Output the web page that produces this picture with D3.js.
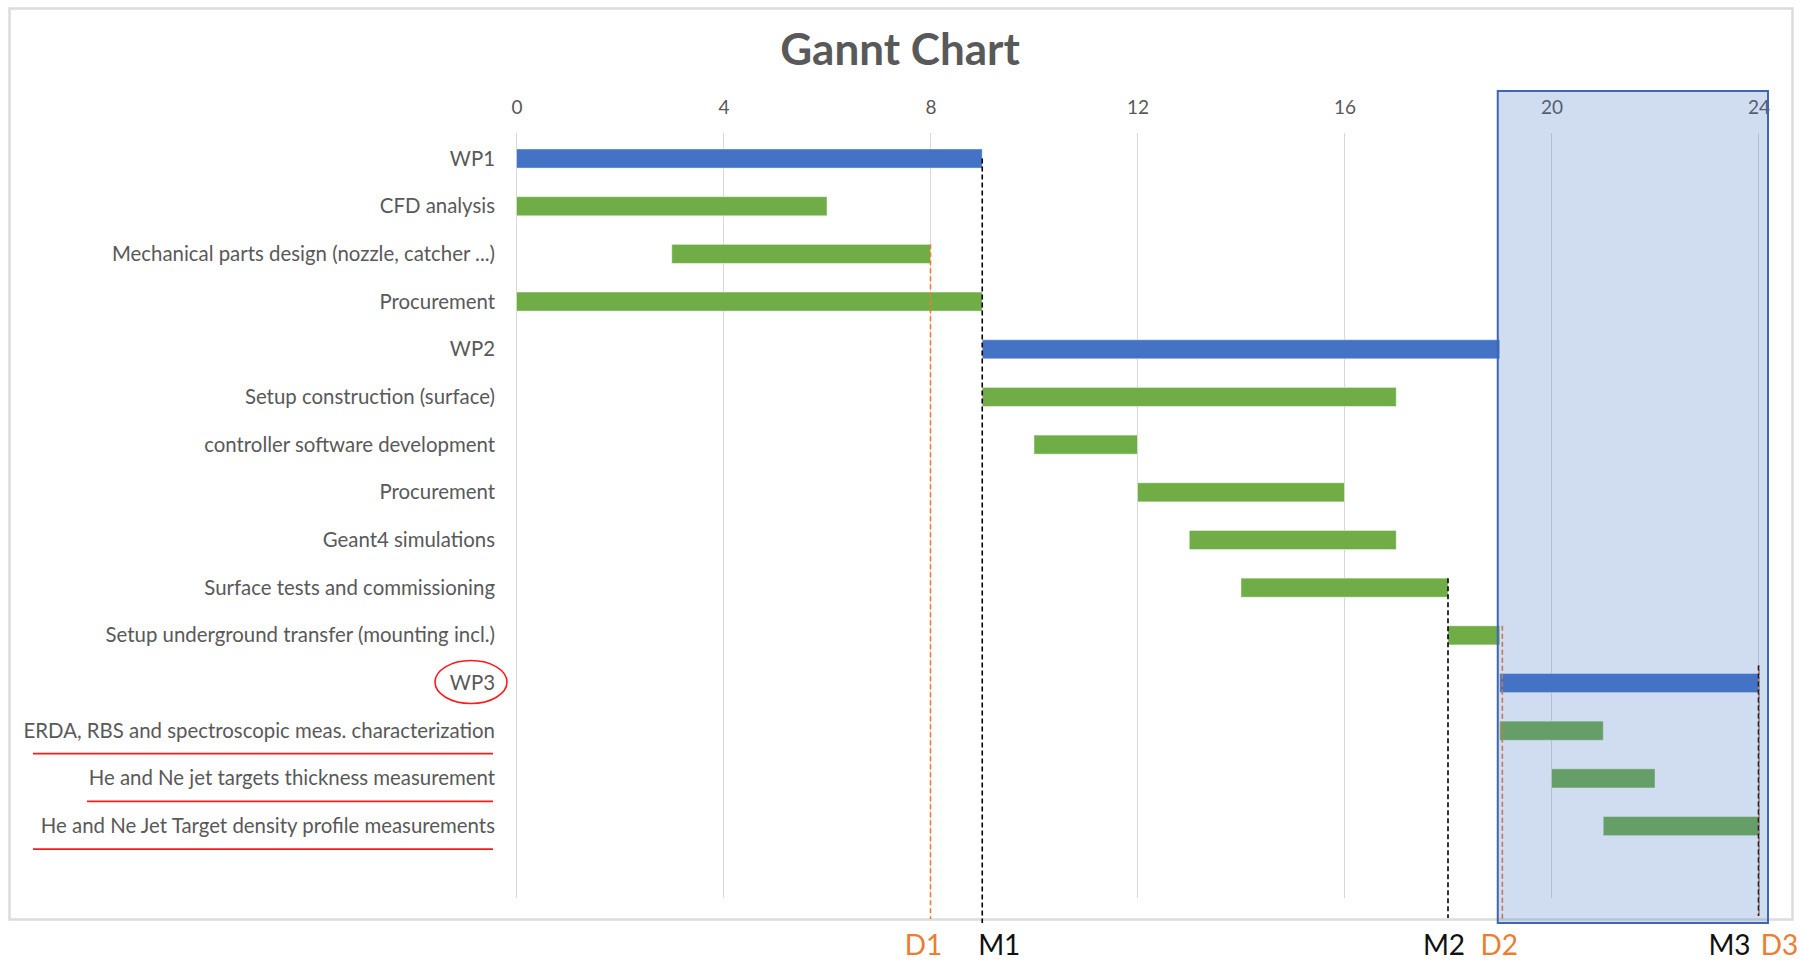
<!DOCTYPE html>
<html>
<head>
<meta charset="utf-8">
<script src="https://cdn.jsdelivr.net/npm/d3@7"></script>
<style>
  html, body { margin: 0; padding: 0; background: #ffffff; }
  svg { display: block; font-family: Lato, "Open Sans", sans-serif; }
</style>
</head>
<body>
<svg id="chart" width="1804" height="964"></svg>
<script>
// Work plan: task names, start month and end month
const taskNames = [
  "WP1",
  "CFD analysis",
  "Mechanical parts design (nozzle, catcher ...)",
  "Procurement",
  "WP2",
  "Setup construction (surface)",
  "controller software development",
  "Procurement",
  "Geant4 simulations",
  "Surface tests and commissioning",
  "Setup underground transfer (mounting incl.)",
  "WP3",
  "ERDA, RBS and spectroscopic meas. characterization",
  "He and Ne jet targets thickness measurement",
  "He and Ne Jet Target density profile measurements"
];
const taskStart = [0, 0, 3, 0, 9, 9, 10, 12, 13, 14, 18, 19, 19, 20, 21];
const taskEnd   = [9, 6, 8, 9, 19, 17, 12, 16, 17, 18, 19, 24, 21, 22, 24];
const isWorkPackage = [true, false, false, false, true, false, false, false, false, false, false, true, false, false, false];

// Month ticks along the top axis
const monthTicks = [0, 4, 8, 12, 16, 20, 24];

// Milestones (M) and deliverables (D): name, month, row where the marker line starts
const markerNames = ["D1", "M1", "M2", "D2", "M3", "D3"];
const markerMonth = [8, 9, 18, 19.05, 24, 24];
const markerRow   = [2, 0, 9, 10, 11, 11];
const markerKind  = ["D", "M", "M", "D", "M", "D"];

// WP3 period highlighted on the chart
const highlightFrom = 19;
const highlightTo = 24;

// Rows whose labels are marked in red
const circledRows = [11];
const underlinedRows = [12, 13, 14];

const svg = d3.select("#chart");

const colors = { wp: "#4472C4", task: "#70AD47", text: "#595959", grid: "#D9D9D9",
                 D: "#ED7D31", M: "#000000", red: "#FF1A1A" };

const x = d3.scaleLinear().domain([0, 24]).range([516.5, 1758.5]);
// one extra empty band at the bottom, as in the source layout
const y = d3.scaleBand()
  .domain(d3.range(taskNames.length + 1))
  .range([134.7, 897.6])
  .paddingInner(0.6)
  .paddingOuter(0.3);
const rowCenter = i => y(i) + y.bandwidth() / 2;

// outer chart frame
svg.append("rect")
  .attr("x", 9.5).attr("y", 8.5).attr("width", 1783).attr("height", 911)
  .attr("fill", "#fff").attr("stroke", "#DCDCDC").attr("stroke-width", 2.5);

// title
svg.append("text")
  .attr("x", 900).attr("y", 65)
  .attr("text-anchor", "middle")
  .attr("font-size", 44).attr("font-weight", 700)
  .attr("fill", colors.text)
  .text("Gannt Chart");

// vertical gridlines and top axis labels
const axis = d3.axisTop(x).tickValues(monthTicks).tickSize(0).tickPadding(0);
const gAxis = svg.append("g").attr("transform", "translate(0,113.5)").call(axis);
gAxis.select(".domain").remove();
gAxis.selectAll("text")
  .attr("font-size", 19).attr("fill", colors.text)
  .attr("font-family", "Lato, sans-serif").attr("dy", 0);

svg.append("g").selectAll("line")
  .data(monthTicks)
  .join("line")
  .attr("x1", d => x(d)).attr("x2", d => x(d))
  .attr("y1", 133).attr("y2", 898)
  .attr("stroke", colors.grid).attr("stroke-width", 1);

// category labels
svg.append("g").selectAll("text")
  .data(taskNames)
  .join("text")
  .attr("x", 495)
  .attr("y", (d, i) => rowCenter(i) + 7)
  .attr("text-anchor", "end")
  .attr("font-size", 20.4)
  .attr("fill", colors.text)
  .text(d => d);

// bars
svg.append("g").selectAll("rect")
  .data(taskNames.map((name, i) => ({ i, s: taskStart[i], e: taskEnd[i], wp: isWorkPackage[i] })))
  .join("rect")
  .attr("x", d => x(d.s))
  .attr("y", d => y(d.i))
  .attr("width", d => x(d.e) - x(d.s))
  .attr("height", y.bandwidth())
  .attr("fill", d => d.wp ? colors.wp : colors.task)
  .attr("stroke", "rgba(255,255,255,0.45)")
  .attr("stroke-width", 1);

// milestone / deliverable marker lines
const markers = markerNames.map((n, i) => ({ n, m: markerMonth[i], row: markerRow[i], kind: markerKind[i] }));
const lineEnd = { D1: 919, M1: 923, M2: 918, D2: 920, M3: 916, D3: 916 };
const lineStartShift = { D1: 0, M1: y.bandwidth() / 2, M2: 0, D2: 0, M3: -8, D3: -8 };
svg.append("g").selectAll("line")
  .data(markers.filter(d => d.kind === "D").concat(markers.filter(d => d.kind === "M")))
  .join("line")
  .attr("x1", d => x(d.m) + (d.n === "D3" ? 0.5 : 0))
  .attr("x2", d => x(d.m) + (d.n === "D3" ? 0.5 : 0))
  .attr("y1", d => y(d.row) + lineStartShift[d.n])
  .attr("y2", d => lineEnd[d.n])
  .attr("stroke", d => colors[d.kind])
  .attr("stroke-width", 1.6)
  .attr("stroke-dasharray", "5,3")
  .attr("stroke-dashoffset", d => d.n === "D3" ? 4 : 0);

// highlighted WP3 period
svg.append("rect")
  .attr("x", x(highlightFrom) - 2)
  .attr("y", 91)
  .attr("width", x(highlightTo) - x(highlightFrom) + 11.5)
  .attr("height", 832)
  .attr("fill", colors.wp).attr("fill-opacity", 0.25)
  .attr("stroke", "#3F66B0").attr("stroke-width", 2);

// marker labels under the chart
const labelShift = { D1: -7, M1: 17, M2: -4, D2: -3, M3: -29, D3: 21 };
svg.append("g").selectAll("text")
  .data(markers)
  .join("text")
  .attr("x", d => x(d.m) + labelShift[d.n])
  .attr("y", 955)
  .attr("text-anchor", "middle")
  .attr("font-size", 28)
  .attr("fill", d => d.kind === "D" ? colors.D : "#111111")
  .text(d => d.n);

// red marks on the WP3 labels
svg.append("g").selectAll("ellipse")
  .data(circledRows)
  .join("ellipse")
  .attr("cx", 471).attr("cy", d => rowCenter(d) - 1)
  .attr("rx", 36).attr("ry", 21.5)
  .attr("fill", "none").attr("stroke", colors.red).attr("stroke-width", 1.6);

const underlineFrom = { 12: 33, 13: 87, 14: 33 };
svg.append("g").selectAll("line")
  .data(underlinedRows)
  .join("line")
  .attr("x1", d => underlineFrom[d]).attr("x2", 493)
  .attr("y1", d => rowCenter(d) + 23).attr("y2", d => rowCenter(d) + 23)
  .attr("stroke", colors.red).attr("stroke-width", 1.8);
</script>
</body>
</html>
